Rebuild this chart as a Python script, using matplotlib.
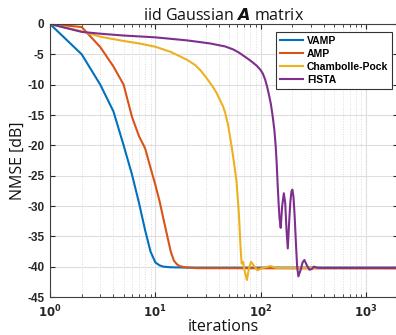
import math
import matplotlib
matplotlib.use("Agg")
import matplotlib.pyplot as plt
from matplotlib.ticker import LogLocator, FixedLocator, FuncFormatter, NullFormatter

# ---- data ----
vamp_it = [1, 2, 3, 4, 5, 6, 7, 8, 9, 10, 11, 12, 14, 20, 2000]
vamp_db = [0, -5, -10, -14.4, -20, -24.8, -29.5, -34, -37.5, -39.3, -39.8, -40.0, -40.1, -40.15, -40.15]

amp_it = [1, 2, 3, 4, 5, 6, 7, 8, 9, 10, 11, 12, 13, 14, 15, 16, 17, 19, 25, 2000]
amp_db = [0, -0.5, -3.8, -7, -10, -15.3, -18.5, -20.5, -23.7, -26.5, -29.3, -32.3, -35, -37.5,
          -39, -39.6, -39.9, -40.1, -40.25, -40.3]

cp_it = [1, 2, 3, 5, 7, 10, 14, 20, 24, 27, 30, 35, 38, 41, 44, 46, 49, 53, 56, 59, 62, 64.5, 66,
         68, 70, 74, 77, 81, 86, 93, 105, 124, 140, 2000]
cp_db = [0, -1.2, -2.1, -2.8, -3.2, -3.75, -4.6, -5.9, -6.8, -7.7, -8.7, -10.3, -11.3, -12.5,
         -13.6, -14.6, -16.6, -20.2, -23, -26, -31, -37, -39.5, -39.2, -40.5, -42.2, -40.5, -39.2,
         -39.8, -40.6, -40.2, -39.9, -40.2, -40.2]

fista_it = [1, 2, 3, 5, 10, 20, 33, 46, 55, 62, 71, 78, 85, 92, 100, 105, 110, 115, 120, 125, 130,
            135, 139, 142, 145, 148, 151, 155, 160, 166, 171, 176, 181, 186, 191, 196, 200, 205,
            210, 216, 222, 228, 240, 250, 260, 275, 290, 305, 320, 350, 2000]
fista_db = [0, -1.3, -1.6, -1.9, -2.2, -2.7, -3.2, -3.7, -4.2, -4.7, -5.4, -5.9, -6.4, -6.9, -7.6,
            -8.2, -9.1, -10.3, -11.7, -13.2, -15.2, -17.5, -20.2, -23, -26.5, -29.5, -32, -33.6,
            -30, -27.9, -29.5, -34, -37, -33, -29.5, -27.6, -27.3, -28.5, -31.5, -36, -40, -41.6,
            -40.5, -39.3, -38.9, -39.8, -40.5, -40.4, -40.0, -40.2, -40.2]

series = [("VAMP", vamp_it, vamp_db, "#0072BD"),
          ("AMP", amp_it, amp_db, "#D95319"),
          ("Chambolle-Pock", cp_it, cp_db, "#EDB120"),
          ("FISTA", fista_it, fista_db, "#7E2F8E")]

yticks = [0, -5, -10, -15, -20, -25, -30, -35, -40, -45]
xticks = [1, 10, 100, 1000]

fig = plt.figure(figsize=(3.96, 3.35), dpi=100)
ax = fig.add_axes([50 / 396, 1 - 297 / 335, 347.7 / 396, 273 / 335])

for name, xs, ys, c in series:
    ax.plot(xs, ys, color=c, lw=1.5, label=name)

ax.set_xscale("log")
ax.set_xlim(1, 2000)
ax.set_ylim(-45, 0)
ax.set_yticks(yticks)
ax.yaxis.set_major_formatter(FuncFormatter(lambda v, p: "%d" % v))
ax.xaxis.set_major_locator(FixedLocator(xticks))
ax.xaxis.set_minor_locator(LogLocator(base=10, subs=range(2, 10), numticks=20))
ax.xaxis.set_minor_formatter(NullFormatter())
ax.xaxis.set_major_formatter(FuncFormatter(lambda v, p: r"$\mathbf{10^{%d}}$" % round(math.log10(v))))

tc = "#262626"
ax.tick_params(axis="y", which="major", direction="in", length=3.5, width=0.8,
               right=True, labelsize=8.5, colors=tc, pad=4)
ax.tick_params(axis="x", which="major", direction="in", length=3.5, width=0.8,
               top=True, labelsize=8.5, colors=tc, pad=5)
ax.tick_params(axis="x", which="minor", direction="in", length=2, width=0.6, top=True, colors=tc)
for lab in ax.get_yticklabels():
    lab.set_fontweight("bold")
    lab.set_family("Liberation Sans")

ax.grid(True, which="major", color="#dedede", lw=0.8, ls="-")
ax.grid(True, which="minor", axis="x", color="#d0d0d0", lw=0.6, ls=(0, (1, 2)))
ax.set_axisbelow(True)
for s in ax.spines.values():
    s.set_color("#404040")
    s.set_linewidth(0.8)

ax.set_title(r"iid Gaussian $\boldsymbol{A}$ matrix", fontsize=11.5, family="Open Sans", pad=3, color="#111111")
ax.set_xlabel("iterations", fontsize=11.5, family="Open Sans", labelpad=-1, color="#111111")
ax.set_ylabel("NMSE [dB]", fontsize=11.5, family="Open Sans", labelpad=1, color="#111111")

leg = ax.legend(loc="upper right", bbox_to_anchor=(392 / 396, 1 - 32 / 335), bbox_transform=fig.transFigure,
                prop={"family": "Liberation Sans", "weight": "bold", "size": 7.5},
                frameon=True, fancybox=False, framealpha=1, edgecolor="#333333",
                handlelength=2.2, handletextpad=0.4, borderpad=0.35, labelspacing=0.3, borderaxespad=0)
leg.get_frame().set_linewidth(0.8)

fig.savefig("out.png", dpi=100)
